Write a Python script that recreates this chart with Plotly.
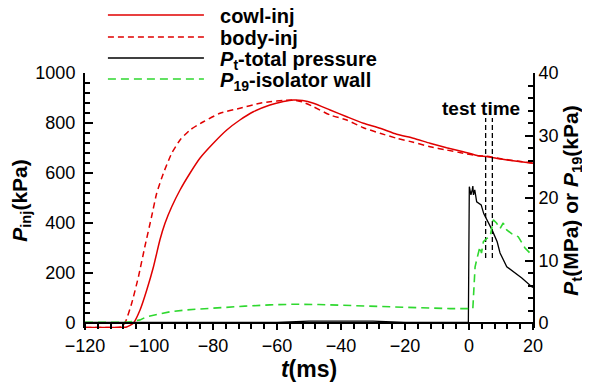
import plotly.graph_objects as go

# ---------------- data ----------------
t_cowl = [-120, -110, -107, -104.9, -102.8, -100.7, -98.6, -96.6, -95, -92.9, -90.3, -87.2, -84.1,
          -79.9, -75.7, -71.6, -67.4, -62.2, -58, -54.9, -52, -48.6, -43.4, -38.2,
          -33, -27.8, -22.6, -17.4, -12.2, -7, -1.8, 2.9, 5.5, 10, 15, 20]
v_cowl = [-18, -18, -16, -1, 52, 132, 225, 332, 399, 465, 532, 599, 659,
          719, 772, 812, 845, 872, 886, 892, 890, 879, 852, 825,
          799, 779, 755, 739, 719, 701, 685, 669, 666, 656, 647, 639]

t_body = [-120, -110, -108.5, -107.5, -105.4, -103.3, -101.3, -99.2, -97.6, -95.5, -92.9, -90.3,
          -87.2, -83, -77.8, -71.6, -65.3, -62.2, -58, -54.9, -52,
          -48.6, -43.4, -38.2, -33, -27.8, -22.6, -17.4, -12.2, -7, -1.8, 2.9, 5.5, 10, 15, 20]
v_body = [-18, -18, -15, 0, 79, 185, 305, 425, 519, 599, 679, 732,
          772, 805, 839, 859, 879, 885, 890, 892, 884,
          865, 832, 812, 781, 759, 739, 723, 705, 692, 679, 669, 667, 657, 648, 640]

t_pt = [-120, -60, -50, -30, -20, -0.2, 0.1, 0.6, 1.0, 1.2, 1.4, 1.8, 2.4, 3.0, 3.8, 4.6,
        5.6, 7.2, 8.8, 9.7, 11.8, 13.9, 16.5, 19.6, 20]
v_pt = [0.1, 0.1, 0.3, 0.3, 0.1, 0.1, 21.8, 20.5, 21.3, 21.9, 20.5, 21.3, 19.4, 19.2, 18.9, 17.5,
        16.5, 14.9, 13.0, 11.2, 9.0, 8.2, 7.2, 5.8, 5.7]

t_p19 = [-120, -107, -105, -102.8, -100.7, -97, -93.4, -88.2, -83, -77.8, -70, -62.2, -54.9, -47,
         -41, -37.2, -30, -21.6, -14, -5.9, 1.2, 1.9, 2.4, 3.4, 3.9, 4.5, 5.5, 6.6, 7.6, 8.6,
         9.7, 10.7, 11.8, 13.3, 15.4, 17.5, 19.6, 20]
v_p19 = [0.1, 0.1, 0.25, 0.5, 1.0, 1.45, 1.8, 2.1, 2.3, 2.5, 2.7, 2.9, 3.0, 2.95,
         2.85, 2.75, 2.65, 2.5, 2.4, 2.3, 2.3, 9.0, 10.1, 12.2, 11.2, 13.0, 13.5, 13.8, 16.5, 16.0,
         15.1, 16.0, 14.9, 14.3, 13.8, 12.0, 10.9, 10.8]

test_time = [5.2, 7.3]          # ms
test_span = [260, 820]          # kPa on left axis

x_ticks = [-120, -100, -80, -60, -40, -20, 0, 20]
yl_ticks = [0, 200, 400, 600, 800, 1000]
yr_ticks = [0, 10, 20, 30, 40]

names = ["cowl-inj", "body-inj", "<i>P</i><sub>t</sub>-total pressure",
         "<i>P</i><sub>19</sub>-isolator wall"]

RED = "#e00000"
GREEN = "#2fd82f"
FONT = "Liberation Sans, Arial, sans-serif"
GAP = "\u00a0\u00a0"

fig = go.Figure()
fig.add_trace(go.Scatter(x=t_cowl, y=v_cowl, mode="lines", name=GAP + names[0], legend="legend",
                         line=dict(color=RED, width=1.5, shape="spline", smoothing=0.5)))
fig.add_trace(go.Scatter(x=t_body, y=v_body, mode="lines", name=GAP + names[1], legend="legend2",
                         line=dict(color=RED, width=1.5, dash="6px,4px", shape="spline", smoothing=0.5)))
fig.add_trace(go.Scatter(x=t_pt, y=v_pt, mode="lines", name=GAP + names[2], yaxis="y2", legend="legend3",
                         line=dict(color="black", width=1.3)))
fig.add_trace(go.Scatter(x=t_p19, y=v_p19, mode="lines", name=GAP + names[3], yaxis="y2", legend="legend4",
                         line=dict(color=GREEN, width=1.6, dash="8px,5px")))
for tt in test_time:
    fig.add_trace(go.Scatter(x=[tt, tt], y=test_span, mode="lines", showlegend=False,
                             line=dict(color="black", width=1.3, dash="5px,3px")))

fig.add_annotation(x=3.6, y=860, xref="x", yref="y", text="<b>test time</b>",
                   showarrow=False, font=dict(family=FONT, size=19, color="black"))

axis_common = dict(showline=True, linecolor="black", linewidth=2, showgrid=False,
                   zeroline=False, tickcolor="black", tickfont=dict(family=FONT, size=18, color="black"))


def leg(ypx):
    return dict(x=0.04, y=(320 - ypx) / 255, xanchor="left", yanchor="middle",
                bgcolor="rgba(0,0,0,0)", itemwidth=96,
                font=dict(family=FONT, size=20, color="black", weight="bold"))


# page body has an 8px margin: plot area lands at x 85..533, y 73..328 on screen
fig.update_layout(
    width=582, height=377,
    margin=dict(l=77, r=57, t=65, b=57, autoexpand=False),
    paper_bgcolor="white", plot_bgcolor="white",
    font=dict(family=FONT, color="black"),
    showlegend=True,
    legend=leg(15 - 8), legend2=leg(37 - 8), legend3=leg(58 - 8), legend4=leg(79 - 8),
    xaxis=dict(range=[-120, 20], tickvals=x_ticks, ticks="outside", ticklen=6, tickwidth=1.5,
               minor=dict(ticks="outside", dtick=4, tick0=0, ticklen=5, tickcolor="black"),
               anchor="free", position=20 / 1020,
               title=dict(text="<b><i>t</i>(ms)</b>", font=dict(family=FONT, size=23), standoff=4),
               **axis_common),
    yaxis=dict(range=[-20, 1000], tickvals=yl_ticks, ticks="inside", ticklen=8, tickwidth=1.5,
               minor=dict(ticks="inside", dtick=40, tick0=0, ticklen=5, tickcolor="black"),
               ticklabelstandoff=4,
               title=dict(text="<b><i>P</i><sub>inj</sub>(kPa)</b>", font=dict(family=FONT, size=21),
                          standoff=4),
               **axis_common),
    yaxis2=dict(range=[-0.8, 40], tickvals=yr_ticks, ticks="inside", ticklen=8, tickwidth=1.5,
                minor=dict(ticks="inside", dtick=2, tick0=0, ticklen=5, tickcolor="black"),
                overlaying="y", side="right",
                title=dict(text="<b><i>P</i><sub>t</sub>(MPa) or <i>P</i><sub>19</sub>(kPa)</b>",
                           font=dict(family=FONT, size=21), standoff=3),
                **axis_common),
)

fig.write_html("out.html")
